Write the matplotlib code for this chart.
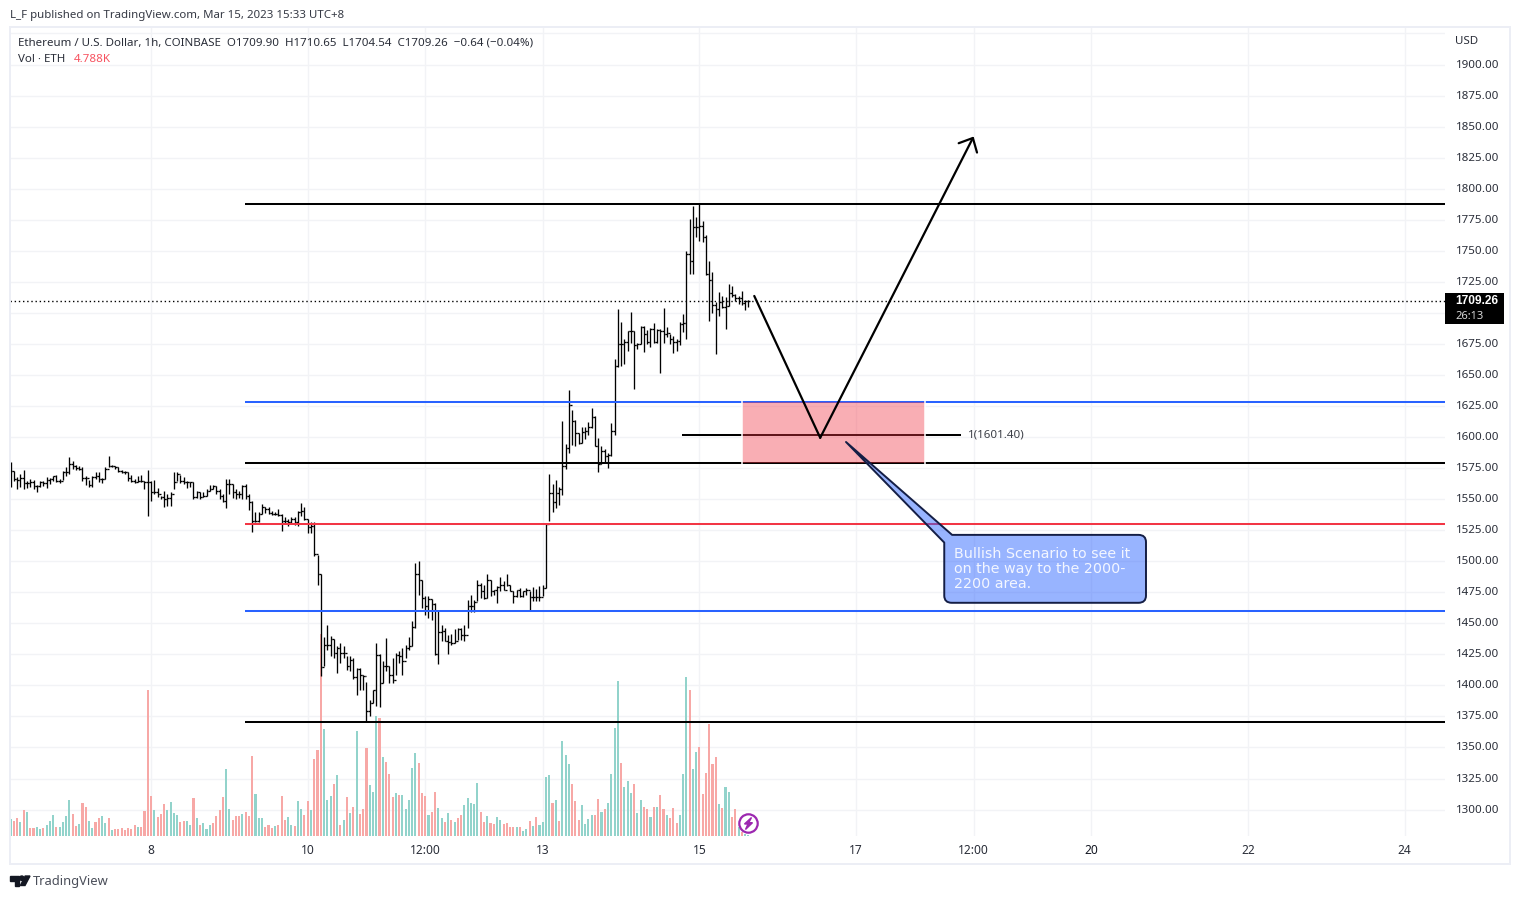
import matplotlib
matplotlib.use("Agg")
import matplotlib.pyplot as plt
from matplotlib.collections import LineCollection
from matplotlib.patches import PathPatch, Rectangle, Circle, Ellipse, Polygon
from matplotlib.path import Path
from matplotlib.transforms import ScaledTranslation
import numpy as np

plt.rcParams['font.family'] = ['Noto Sans', 'DejaVu Sans']

# hourly bars
high = [1579.6,1572.9,1567.5,1570.2,1573.4,1564.8,1566.1,1565.6,1561.3,1564.8,
        1564.8,1567.5,1566.7,1568.8,1569.4,1566.1,1572.3,1575.5,1583.6,1581,
        1577.4,1576.4,1575.5,1568.8,1565.6,1568.8,1571.5,1571.5,1566.7,1575.5,
        1584.4,1577.4,1576.9,1575.5,1573.7,1572.9,1572,1569.4,1566.1,1568.8,
        1569.4,1564.8,1573.7,1564.8,1565.6,1558.6,1552.7,1556.7,1554,1555.4,
        1571.5,1571.5,1569.4,1567.5,1564.8,1564,1564,1556.7,1555.9,1555.4,
        1558.1,1561.3,1561.3,1560.8,1558.1,1554,1566.1,1566.1,1562.1,1558.1,
        1556.7,1561.3,1562.1,1554,1548.7,1539.8,1539.3,1546,1543.8,1543.3,
        1540.6,1539.3,1542,1537.9,1535.2,1533.9,1535.2,1535.2,1540.6,1546.8,
        1543.3,1533.9,1531.2,1531.2,1504.9,1489.8,1438.7,1449,1439.5,1437.7,
        1431.5,1434.2,1431.5,1423.4,1423.4,1422.1,1414,1414,1408.1,1402.7,
        1388.5,1396.5,1434.2,1425.6,1419.4,1438.2,1415.4,1422.1,1426.1,1427.4,
        1430.1,1432.8,1438.7,1451.6,1498.7,1500,1484.7,1471.8,1471.8,1469.7,
        1466.4,1461.1,1449,1446.3,1440.9,1441.7,1445.5,1446.3,1446.3,1449,
        1469.1,1473.1,1469.1,1485.2,1482.6,1481.2,1489.8,1485.2,1477.2,1479.9,
        1487.4,1483.9,1489.8,1481.2,1475.8,1477.2,1478.5,1475.8,1478.5,1475.8,
        1479.3,1477.7,1479.9,1481.2,1531,1570,1562,1565,1560,1613,
        1594.7,1637.7,1621.8,1613.8,1603,1608.4,1608.4,1612.1,1623.7,1617,
        1599.2,1592.8,1590.1,1587.4,1611.6,1662.7,1703,1692.8,1678.8,1685.5,
        1700.3,1685.5,1675.6,1689.6,1689.6,1686.3,1688.2,1692.2,1686.9,1686.9,
        1703.8,1689,1682.8,1681.5,1678.8,1692.8,1699,1750,1775.6,1785.8,
        1776.9,1787.7,1774.2,1762.7,1742,1733.1,1708.4,1716.4,1713.7,1712.4,
        1723.2,1721.3,1715.1,1713.7,1717.8,1710.2,1710.65]
low = [1560,1564.8,1558.1,1559.4,1558.1,1558.6,1559.4,1558.1,1555.9,1560,
       1560.8,1558.6,1562.1,1564.8,1563.5,1562.6,1565.6,1568.8,1570.2,1574.2,
       1573.7,1573.7,1564.8,1561.3,1559.4,1559.4,1566.1,1563.5,1562.6,1566.1,
       1575.5,1575.5,1574.2,1572,1571,1570.2,1564.8,1563.5,1562.9,1563.5,
       1563.5,1558.1,1536.6,1548.7,1554,1551.4,1550,1543.8,1544.6,1544.1,
       1558.1,1564.8,1562.9,1562.1,1558.6,1559.4,1550,1550.6,1550,1551.4,
       1552.7,1556.7,1558.1,1554,1550,1547.3,1542.5,1554,1550.6,1550,
       1550.6,1550,1550,1541.4,1523.7,1531.7,1531.2,1537.9,1538.7,1537.9,
       1537.1,1537.1,1536,1524.5,1529.9,1528,1529.9,1529,1528,1536.6,
       1533,1523.1,1523.1,1504.3,1480.7,1407.3,1415.4,1428.8,1423.4,1422.1,
       1410,1418,1422.1,1412.7,1411.3,1405.1,1392.5,1396.5,1396.5,1371,
       1375,1385.8,1383.1,1382.3,1401.9,1411.3,1401.9,1401.9,1408.6,1418,
       1408.6,1422.1,1428.8,1432,1446.3,1473.1,1462.4,1457,1454.3,1453,
       1424.8,1417.5,1435.5,1435.5,1425.3,1432.8,1434.2,1436.9,1436.9,1436.1,
       1446.3,1458.9,1458.9,1467.8,1470.5,1469.9,1470.5,1472.3,1473.1,1466.4,
       1475.8,1477.2,1479.9,1475.8,1466.4,1471,1471.3,1471.3,1473.1,1460.5,
       1467.8,1467.8,1467.8,1471.8,1478.5,1532,1540,1543,1545,1553,
       1574.5,1587.4,1593.3,1592.8,1594.1,1594.9,1598.2,1601.4,1607.6,1592.8,
       1571.8,1578,1579.3,1575.3,1584.7,1602,1656.5,1656.8,1658.9,1669.4,
       1676.1,1638.5,1670.7,1674.8,1668.6,1674.8,1672.1,1675.6,1676.1,1651.4,
       1676.1,1680.9,1674.8,1667.5,1669.4,1674,1684.2,1678.8,1731.2,1731.2,
       1760.8,1758.1,1756.8,1730.4,1693.6,1699.8,1667.2,1697.6,1704.3,1686.9,
       1705.7,1712.4,1709.7,1707,1706.2,1702.5,1704.54]
close = [1572.3,1566.1,1565.6,1566.7,1562.9,1562.9,1563.5,1560.8,1560.8,1563.5,
         1562.9,1565.6,1566.1,1568.3,1564.8,1564.8,1571.5,1571.5,1578.2,1576.9,
         1574.7,1574.2,1566.7,1566.7,1561.6,1567.5,1568.8,1566.1,1566.1,1574.2,
         1576.9,1576.4,1575.5,1572.9,1572,1571.5,1566.7,1564.8,1564,1564.8,
         1564.8,1563.5,1563.5,1555.9,1555.4,1554,1551.4,1550,1550.6,1554,
         1563.5,1570.2,1564.8,1563.5,1563.5,1563.5,1551.4,1555.4,1551.4,1552.7,
         1556.7,1558.1,1560.3,1556.7,1552.7,1548.7,1562.1,1562.1,1555.4,1554,
         1554,1560.8,1552.7,1547.3,1532.5,1532.5,1537.9,1543.3,1542,1538.7,
         1537.9,1537.9,1537.1,1532.5,1532.5,1531.7,1533.9,1531.7,1539.3,1540.6,
         1533.9,1527.2,1528,1505.6,1489.3,1414.8,1432.8,1432.8,1437.4,1426.1,
         1430.1,1426.1,1426.1,1415.9,1420.7,1406.8,1413.5,1408.1,1407.3,1379.1,
         1385.8,1396,1424.8,1401.9,1415.9,1415.4,1408.6,1404.6,1424.8,1423.4,
         1419.4,1430.1,1432,1446.8,1489.3,1484.7,1470.5,1464.3,1469.7,1465.9,
         1425.3,1443,1443.6,1435.5,1435,1434.2,1435.5,1445.5,1440.9,1440.4,
         1464.3,1464.3,1467,1481.2,1475.8,1470.5,1484.7,1475.8,1476.6,1479.3,
         1481.2,1477.2,1480.7,1475.8,1471.8,1476.6,1471.8,1475.8,1477.2,1471.3,
         1471.3,1471.3,1471.3,1478.5,1530,1555,1548,1555,1558,1576.7,
         1591.4,1625.6,1613,1603.5,1595.5,1604.3,1604.9,1608.1,1616.4,1592.8,
         1578.5,1588.8,1584.7,1585.3,1604.9,1657.3,1674.8,1674.8,1676.7,1685.5,
         1685.5,1674,1674.8,1689,1682.8,1676.7,1686.9,1676.7,1686.3,1685.5,
         1682.8,1683.6,1678.8,1676.7,1677.5,1690.9,1691.7,1747.3,1742,1768.9,
         1768.9,1770.2,1760.8,1731.2,1726.4,1706.2,1703,1708.9,1705.1,1705.7,
         1715.9,1714.3,1711.6,1711.6,1707.6,1709.9,1709.26]
# volume, same bars, arbitrary units (third of a pixel) and direction
volume = [50,46,54,42,78,72,24,24,27,21,
          24,33,45,63,27,27,42,60,108,66,
          30,36,99,87,45,24,42,54,60,39,
          54,18,21,21,24,18,24,21,33,27,
          27,75,438,120,78,57,66,96,78,102,
          69,63,42,45,45,33,114,54,33,39,
          21,33,39,60,78,117,201,81,48,60,
          60,66,72,60,240,126,54,54,27,33,
          24,30,33,120,48,57,33,30,105,81,
          63,105,78,231,258,606,321,108,120,156,
          183,33,48,117,69,87,315,66,81,264,
          153,132,360,354,
          237,222,186,117,129,123,123,81,108,204,
          249,219,129,120,63,72,132,84,54,42,
          69,48,42,54,63,93,114,99,96,159,
          72,42,60,39,36,57,48,36,39,27,
          27,27,27,15,21,45,30,57,33,42,
          177,183,99,108,45,285,243,216,156,105,
          48,93,36,51,63,63,111,72,81,99,
          186,324,465,219,147,165,129,156,69,108,
          87,81,57,87,87,123,81,63,54,84,
          39,63,186,477,438,201,252,267,126,189,
          336,216,237,96,84,147,132,57,81,28,12,6,3]
vol_dir = ("grrgrgrrgg" "rgggrggggr" "rgrrggrrgg" "rgrrrrrrrg" "rrrrgrrrgg"
           "ggrrggrgrg" "ggrrrrggrr" "rgrrrgggrr" "rgrrrggrgg" "rrgrrrgggr"
           "grgrgrgrrr" "gggr"
           "grrrgrgggg" "grrrgrrggr" "grgrrggggg" "rrgrrggrrr" "rgrggrgrgg"
           "ggrgrgggrr" "rggggrrgrg" "gggrgggrgg" "rrgrgrrgrr" "rgggrggrrr"
           "rrrgrggrrgrgg")

price_ticks = list(range(1300, 1901, 25))
time_pos = [43, 91, 127, 163, 211, 259, 295, 331, 379, 427]
time_labels = ["8", "10", "12:00", "13", "15", "17", "12:00", "20", "22", "24"]

support_lines = [(1787.7, "black"), (1628.3, "#2962ff"), (1579.2, "black"),
                 (1530.0, "#f23645"), (1460.0, "#2962ff"), (1370.4, "black")]

W, H = 1519, 899
fig = plt.figure(figsize=(W / 100, H / 100), dpi=100, facecolor="white")

def px(x, y):
    return x / W, 1 - y / H

ax = fig.add_axes([10 / W, 1 - 836 / H, 1435 / W, 808.5 / H])
ax.set_xlim(-0.2, 439.4)
ymin, ymax = 1278.7, 1929.8
ax.set_ylim(ymin, ymax)
for s in ax.spines.values():
    s.set_visible(False)
ax.yaxis.tick_right()
# 1700.00 sits under the last price tag, so it shows no label
price_labels = ["" if p == 1700 else f"{p:.2f}" for p in price_ticks]
ax.set_yticks(price_ticks + [1925], price_labels + [""])
ax.set_xticks(time_pos, time_labels)
ax.tick_params(axis="y", length=0, pad=7.6, labelsize=8.35, labelcolor="#2a2e39")
ax.tick_params(axis="x", length=0, pad=6, labelsize=8.6, labelcolor="#2a2e39")
for lab in ax.get_yticklabels():
    lab.set_transform(lab.get_transform() + ScaledTranslation(0, 1 / 100, fig.dpi_scale_trans))
ax.get_xticklabels()[time_labels.index("20")].set_fontweight("bold")
ax.get_xticklabels()[time_labels.index("20")].set_color("#131722")
ax.grid(True, color="#f2f3f6", lw=1)
ax.set_axisbelow(True)

idx = np.arange(len(close))
high = np.array(high)
low = np.array(low)
close = np.array(close)
open_ = np.r_[close[0], close[:-1]]
open_[-1] = 1709.90

# volume sits at the bottom of the same pane
vol_scale = (ymax - ymin) / (808.5 * 3)
vol_colors = ["#92d3cb" if d == "g" else "#f7a8a6" for d in vol_dir]
ax.bar(idx, np.array(volume) * vol_scale, bottom=ymin, width=0.64,
       color=vol_colors, zorder=1)

ax.axhline(close[-1], color="black", lw=1, ls=(0, (1, 2)), zorder=2)

# ohlc bars
segs = []
for i in idx:
    segs.append([(i, low[i]), (i, high[i])])
    segs.append([(i - 0.5, open_[i]), (i, open_[i])])
    segs.append([(i, close[i]), (i + 0.5, close[i])])
ax.add_collection(LineCollection(segs, colors="black", linewidths=0.95, zorder=3))

# drawn levels
for level, col in support_lines:
    ax.hlines(level, 71.8, 439.4, color=col, lw=1.45, zorder=4)
ax.hlines(1601.4, 205.7, 291.2, color="black", lw=1.45, zorder=4)
ax.text(293.4, 1601.4, "1(1601.40)", fontsize=8.3, color="#3c3f47", va="center", zorder=6)

ax.add_patch(Rectangle((224.05, 1579.2), 55.95, 49.1, facecolor="#f23645",
                       edgecolor="none", alpha=0.4, zorder=5))
ax.vlines([224.05, 280.0], 1577.5, 1630, color="white", lw=1.1, zorder=5)

# arrow path
ax.plot([227.8, 248.0], [1713.6, 1599.4], color="black", lw=1.6, zorder=6,
        solid_capstyle="round")
ax.annotate("", xy=(295.0, 1842.0), xytext=(248.0, 1599.4), zorder=6,
            arrowprops=dict(arrowstyle="->,head_length=0.8,head_width=0.74",
                            color="black", lw=1.6, shrinkA=0, shrinkB=0,
                            mutation_scale=10))

# callout with its tail
x0, x1, y0, y1 = 286.0, 347.8, 1466.5, 1521.2
rx, ry = 2.3, 5.8
verts = [(255.9, 1596), (288.4, y1), (x1 - rx, y1), (x1, y1), (x1, y1 - ry),
         (x1, y0 + ry), (x1, y0), (x1 - rx, y0), (x0 + rx, y0), (x0, y0),
         (x0, y0 + ry), (x0, 1515), (255.9, 1596)]
codes = [Path.MOVETO, Path.LINETO, Path.LINETO, Path.CURVE3, Path.CURVE3,
         Path.LINETO, Path.CURVE3, Path.CURVE3, Path.LINETO, Path.CURVE3,
         Path.CURVE3, Path.LINETO, Path.CLOSEPOLY]
ax.add_patch(PathPatch(Path(verts, codes), facecolor=(41 / 255, 98 / 255, 1, 0.48),
                       edgecolor="#141e45", lw=1.4, zorder=6, joinstyle="round"))
ax.text(289, 1493.6, "Bullish Scenario to see it\non the way to the 2000-\n2200 area.",
        color="#f3f6ff", fontsize=10.25, family="DejaVu Sans", va="center", ha="left",
        linespacing=1.12, zorder=7)

# pane border
fig.add_artist(Rectangle(px(9.5, 864), 1500 / W, 837 / H, transform=fig.transFigure,
                         fill=False, edgecolor="#eceef5", lw=1.4))

# header text
fig.text(*px(10, 15.5), "L_F published on TradingView.com, Mar 15, 2023 15:33 UTC+8",
         fontsize=8.25, color="#363a45", va="center")
fig.text(*px(18, 43), "Ethereum / U.S. Dollar, 1h, COINBASE  O1709.90  H1710.65  L1704.54  C1709.26  \u22120.64 (\u22120.04%)",
         fontsize=8.3, color="#2a2e39", va="center")
fig.text(*px(18, 60), "Vol \u00b7 ETH", fontsize=8.3, color="#2a2e39", va="center")
fig.text(*px(74, 60), "4.788K", fontsize=8.3, color="#f7525f", va="center")
fig.text(*px(1455, 42), "USD", fontsize=8.3, color="#2a2e39", va="center")

# last price tag
fig.add_artist(Rectangle(px(1445, 324), 59 / W, 31 / H, transform=fig.transFigure,
                         facecolor="black", edgecolor="none"))
fig.text(*px(1455, 301.5), "1709.26", fontsize=8.6, color="white", weight="bold",
         family="Liberation Sans", va="center")
fig.text(*px(1455, 316.5), "26:13", fontsize=8.0, color="#d8d8d8", va="center")

# replay badge
badge = fig.add_axes([738 / W, 1 - 834 / H, 21 / W, 21 / H])
badge.set_xlim(-1.05, 1.05)
badge.set_ylim(-1.05, 1.05)
badge.axis("off")
badge.add_patch(Circle((0, 0), 0.92, facecolor="white", edgecolor="#9c27b0", lw=1.6))
badge.add_patch(Polygon([(0.3, 0.6), (-0.4, -0.05), (-0.05, -0.05), (-0.3, -0.6),
                         (0.4, 0.08), (0.03, 0.08)], color="#9c27b0"))

# footer logo
logo = "#131722"
fig.add_artist(Polygon([px(10, 876), px(19, 876), px(19, 885.5), px(14.5, 885.5), px(14.5, 880.5), px(10, 880.5)],
                       transform=fig.transFigure, color=logo))
fig.add_artist(Ellipse(px(21.8, 878.2), 4.4 / W, 4.4 / H, transform=fig.transFigure, color=logo))
fig.add_artist(Polygon([px(25.2, 876), px(30, 876), px(25, 885.5), px(20.4, 885.5)],
                       transform=fig.transFigure, color=logo))
fig.text(*px(33, 881.5), "TradingView", fontsize=9.3, color="#4a4e59", va="center")

fig.savefig("out.png", dpi=100)
